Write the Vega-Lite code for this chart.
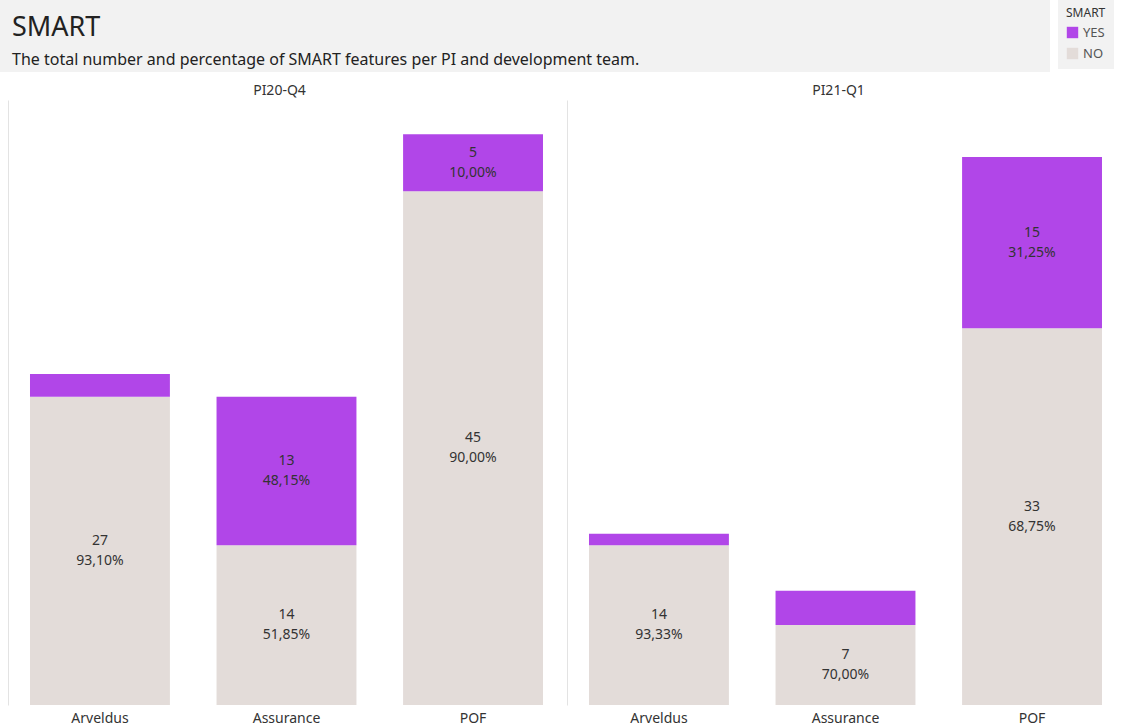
{
  "$schema": "https://vega.github.io/schema/vega-lite/v6.json",
  "padding": 0,
  "background": "white",
  "config": {
    "view": {"stroke": null},
    "font": "Noto Sans",
    "concat": {"spacing": 12}
  },
  "vconcat": [
    {
      "width": 1050,
      "height": 72,
      "view": {"fill": "#f2f2f2", "stroke": null},
      "data": {"values": [{}]},
      "title": {
        "text": "SMART",
        "subtitle": "The total number and percentage of SMART features per PI and  development team.",
        "orient": "top",
        "anchor": "start",
        "frame": "group",
        "offset": -69,
        "dx": 12,
        "fontSize": 27,
        "fontWeight": "normal",
        "color": "#222222",
        "subtitleFontSize": 16,
        "subtitleColor": "#222222",
        "subtitlePadding": 10
      },
      "mark": {"type": "point", "opacity": 0},
      "encoding": {}
    },
    {
      "data": {
        "values": [
          {"PI": "PI20-Q4", "team": "Arveldus", "SMART": "NO", "n": 27, "pct": "93,10%"},
          {"PI": "PI20-Q4", "team": "Arveldus", "SMART": "YES", "n": 2, "pct": "6,90%"},
          {"PI": "PI20-Q4", "team": "Assurance", "SMART": "NO", "n": 14, "pct": "51,85%"},
          {"PI": "PI20-Q4", "team": "Assurance", "SMART": "YES", "n": 13, "pct": "48,15%"},
          {"PI": "PI20-Q4", "team": "POF", "SMART": "NO", "n": 45, "pct": "90,00%"},
          {"PI": "PI20-Q4", "team": "POF", "SMART": "YES", "n": 5, "pct": "10,00%"},
          {"PI": "PI21-Q1", "team": "Arveldus", "SMART": "NO", "n": 14, "pct": "93,33%"},
          {"PI": "PI21-Q1", "team": "Arveldus", "SMART": "YES", "n": 1, "pct": "6,67%"},
          {"PI": "PI21-Q1", "team": "Assurance", "SMART": "NO", "n": 7, "pct": "70,00%"},
          {"PI": "PI21-Q1", "team": "Assurance", "SMART": "YES", "n": 3, "pct": "30,00%"},
          {"PI": "PI21-Q1", "team": "POF", "SMART": "NO", "n": 33, "pct": "68,75%"},
          {"PI": "PI21-Q1", "team": "POF", "SMART": "YES", "n": 15, "pct": "31,25%"}
        ]
      },
      "facet": {
        "column": {
          "field": "PI",
          "type": "nominal",
          "header": {
            "title": null,
            "labelFontSize": 14,
            "labelColor": "#333333",
            "labelPadding": 2
          }
        }
      },
      "spacing": 0,
      "resolve": {"axis": {"y": "independent", "x": "independent"}},
      "spec": {
        "width": 559,
        "height": 605,
        "transform": [
          {
            "stack": "n",
            "groupby": ["PI", "team"],
            "sort": [{"field": "SMART", "order": "ascending"}],
            "as": ["y0", "y1"]
          },
          {"calculate": "(datum.y0 + datum.y1) / 2", "as": "mid"},
          {"calculate": "datum.n + '\\n' + datum.pct", "as": "label"}
        ],
        "layer": [
          {
            "mark": {"type": "bar"},
            "encoding": {
              "x": {
                "field": "team",
                "type": "nominal",
                "scale": {"paddingInner": 0.25, "paddingOuter": 0.1233, "align": 0.652},
                "axis": {
                  "title": null,
                  "domain": false,
                  "ticks": false,
                  "labelAngle": 0,
                  "labelFontSize": 14,
                  "labelColor": "#333333",
                  "labelPadding": 6
                }
              },
              "y": {
                "field": "y0",
                "type": "quantitative",
                "scale": {"domain": [0, 53], "nice": false},
                "axis": {
                  "title": null,
                  "labels": false,
                  "ticks": false,
                  "grid": false,
                  "domain": true,
                  "domainColor": "#e3e3e3",
                  "offset": -8
                }
              },
              "y2": {"field": "y1"},
              "color": {
                "field": "SMART",
                "type": "nominal",
                "scale": {"domain": ["YES", "NO"], "range": ["#b146e8", "#e3dcd9"]},
                "legend": {
                  "orient": "none",
                  "legendX": 1058,
                  "legendY": 0,
                  "title": "SMART",
                  "fillColor": "#f2f2f2",
                  "padding": 8,
                  "titleFontSize": 12,
                  "titleFontWeight": "normal",
                  "titleColor": "#333333",
                  "titlePadding": 6,
                  "labelFontSize": 13,
                  "labelColor": "#555555",
                  "symbolType": "square",
                  "symbolSize": 130,
                  "symbolStrokeWidth": 0,
                  "symbolOpacity": 1,
                  "rowPadding": 7
                }
              }
            }
          },
          {
            "transform": [{"filter": "datum.n > 3"}],
            "mark": {
              "type": "text",
              "lineBreak": "\n",
              "lineHeight": 20,
              "fontSize": 14,
              "color": "#333333",
              "baseline": "middle",
              "dy": -10
            },
            "encoding": {
              "x": {"field": "team", "type": "nominal"},
              "y": {"field": "mid", "type": "quantitative"},
              "text": {"field": "label", "type": "nominal"}
            }
          }
        ]
      }
    }
  ]
}
